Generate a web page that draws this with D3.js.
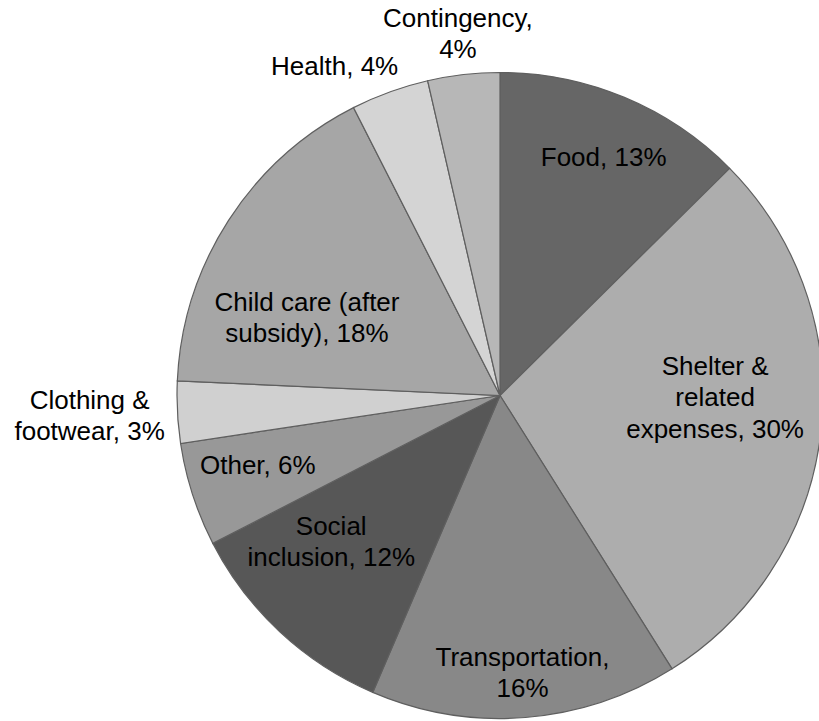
<!DOCTYPE html>
<html>
<head>
<meta charset="utf-8">
<script src="https://cdn.jsdelivr.net/npm/d3@7"></script>
<style>
  body { margin: 0; background: #fff; }
  svg { display: block; }
  text { font-family: "Liberation Sans", Arial, sans-serif; font-size: 26px; fill: #000; }
</style>
</head>
<body>
<svg id="chart" width="819" height="721"></svg>
<script>
// budget categories, clockwise from 12 o'clock
const categories = ["Food", "Shelter & related expenses", "Transportation", "Social inclusion",
  "Other", "Clothing & footwear", "Child care (after subsidy)", "Health", "Contingency"];
// slice sizes (labels are the published rounded figures)
const shares = [12.6, 28.5, 15.4, 11.0, 5.2, 3.1, 16.8, 3.9, 3.6];
// label text as shown, split into lines
const labelLines = [
  ["Food, 13%"],
  ["Shelter &", "related", "expenses, 30%"],
  ["Transportation,", "16%"],
  ["Social", "inclusion, 12%"],
  ["Other, 6%"],
  ["Clothing &", "footwear, 3%"],
  ["Child care (after", "subsidy), 18%"],
  ["Health, 4%"],
  ["Contingency,", "4%"]
];
const fills = ["#666666", "#adadad", "#888888", "#575757", "#989898", "#d0d0d0", "#a6a6a6", "#d4d4d4", "#b7b7b7"];

// label placement: radius as fraction of R, and angle nudge in degrees
const labelK = [0.806, 0.666, 0.86, 0.69, 0.78, 1.272, 0.645, 1.143, 1.13];
const labelDA = [0.8, -6.15, -0.15, 6.25, 1.9, 0.2, -10.7, -6.65, -0.15];

const cx = 500, cy = 395.5, R = 323;
const lineH = 31.5;

const svg = d3.select("#chart");
const g = svg.append("g").attr("transform", `translate(${cx},${cy})`);

const pie = d3.pie().sort(null).value(d => d.v);
const arcs = pie(categories.map((c, i) => ({ c: c, v: shares[i], i: i })));
const arc = d3.arc().innerRadius(0).outerRadius(R);

g.selectAll("path.slice")
  .data(arcs)
  .join("path")
  .attr("class", "slice")
  .attr("d", arc)
  .attr("fill", d => fills[d.data.i])
  .attr("stroke", "#5f5f5f")
  .attr("stroke-width", 1.2);

g.selectAll("text.lbl")
  .data(arcs)
  .join("text")
  .attr("class", "lbl")
  .attr("text-anchor", "middle")
  .each(function(d) {
    const i = d.data.i;
    const mid = (d.startAngle + d.endAngle) / 2 + labelDA[i] * Math.PI / 180;
    const r = labelK[i] * R;
    const x = r * Math.sin(mid);
    const y = -r * Math.cos(mid);
    const lines = labelLines[i];
    const y0 = y - (lines.length - 1) * lineH / 2 + 9.3;
    d3.select(this).selectAll("tspan")
      .data(lines)
      .join("tspan")
      .attr("x", x)
      .attr("y", (t, k) => y0 + k * lineH)
      .text(t => t);
  });
</script>
</body>
</html>
